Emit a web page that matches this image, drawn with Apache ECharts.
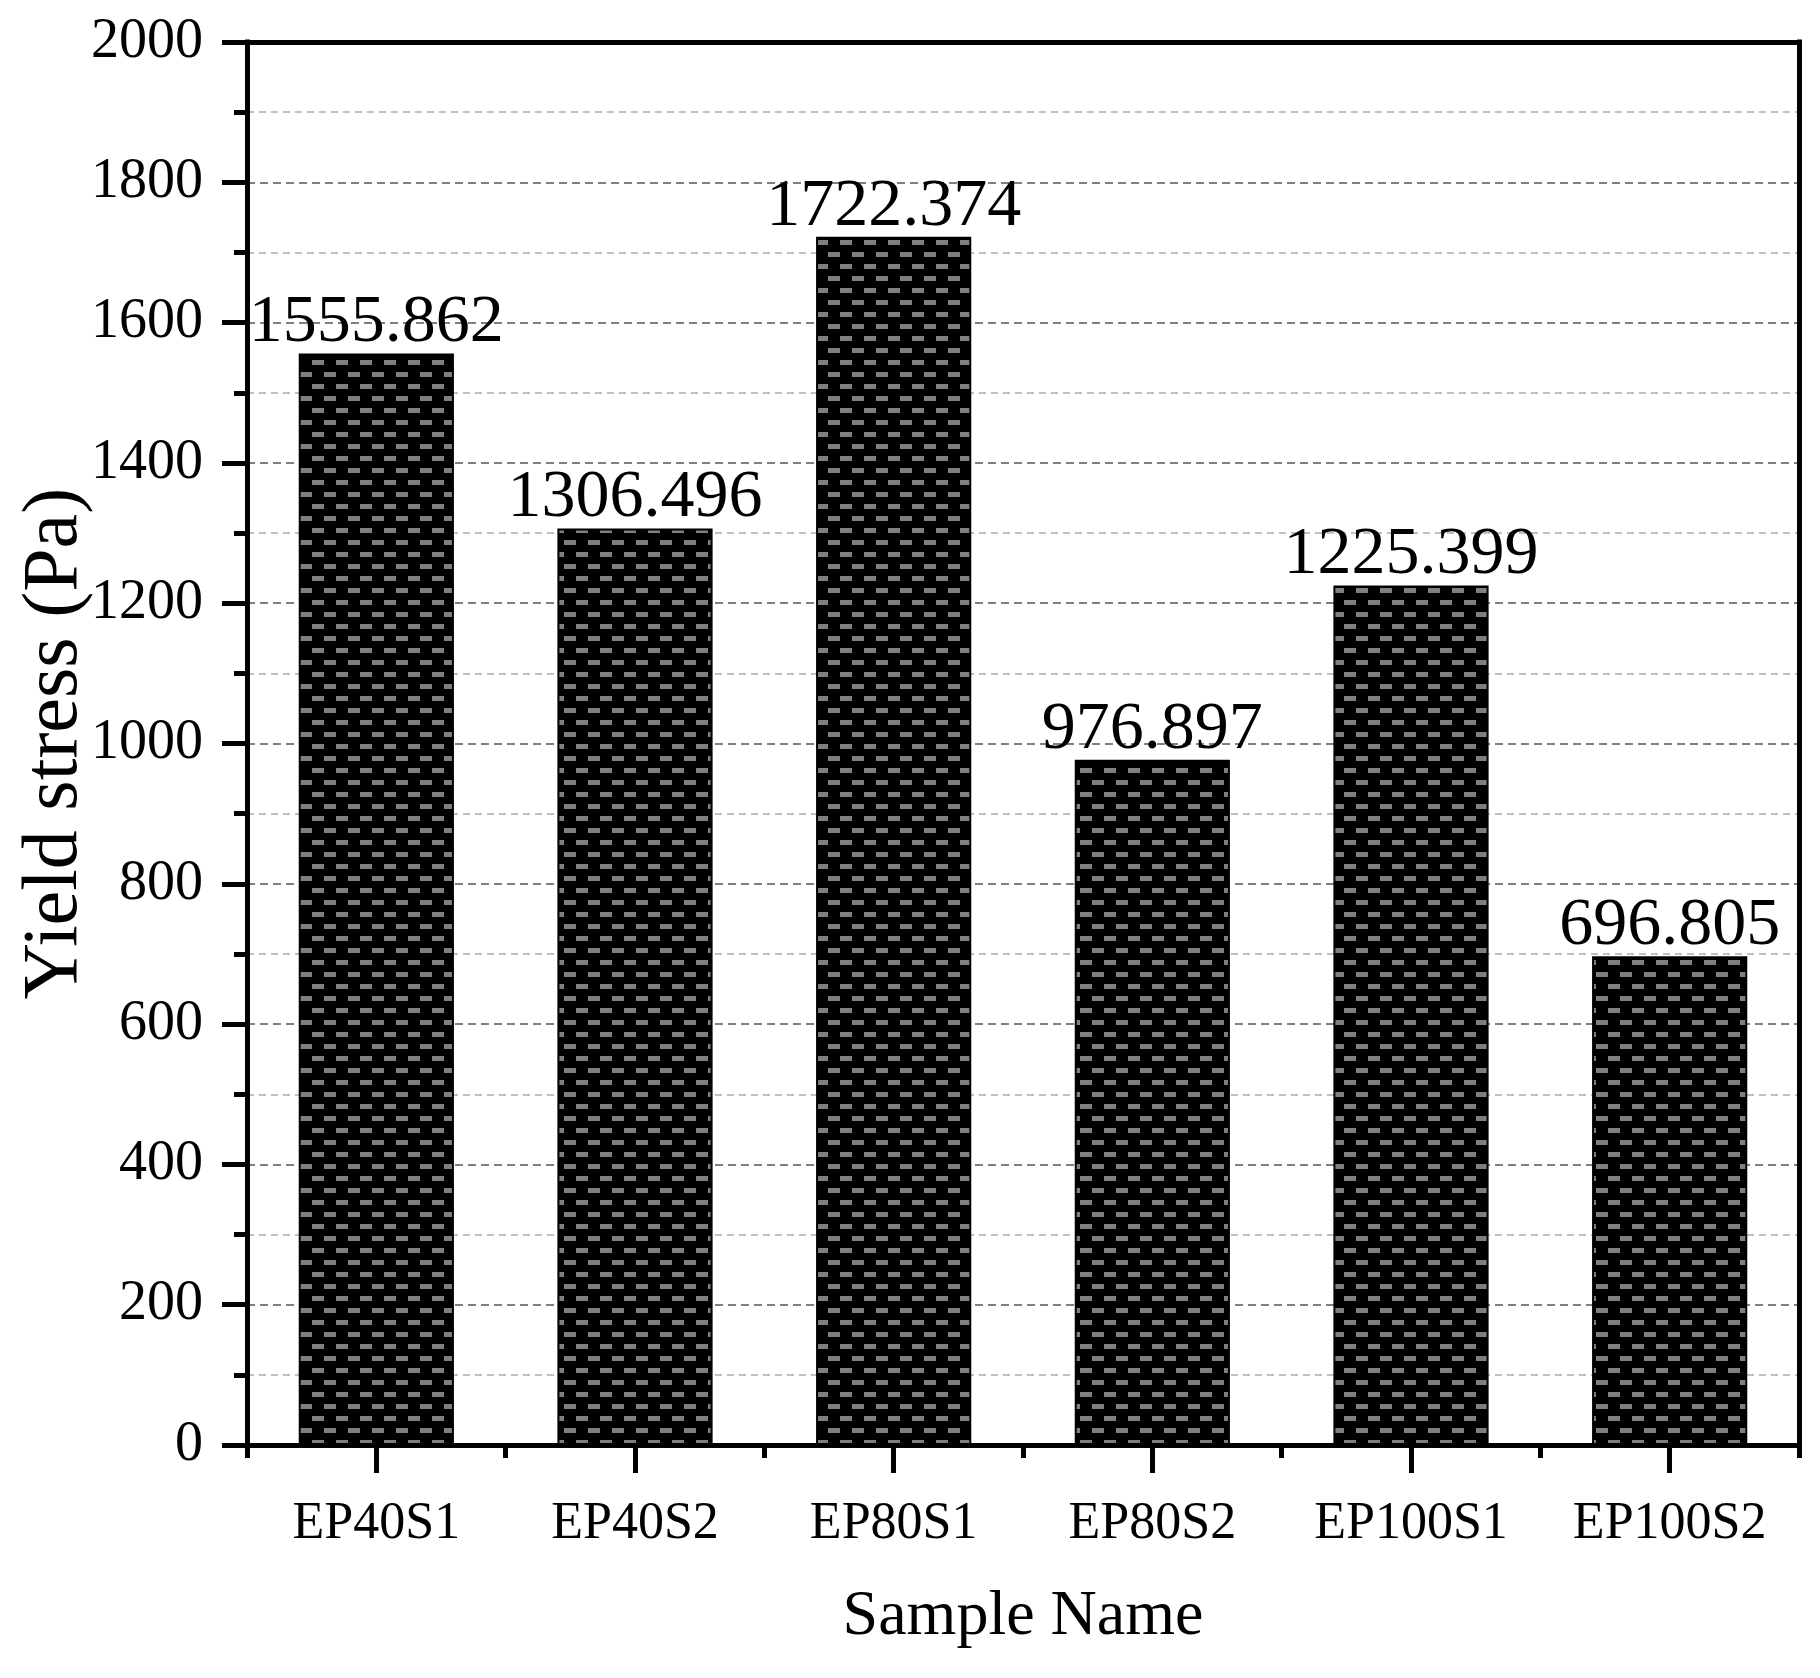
<!DOCTYPE html>
<html><head><meta charset="utf-8">
<script src="https://cdn.jsdelivr.net/npm/echarts@6/dist/echarts.min.js"></script>
<style>html,body{margin:0;padding:0;background:#fff}#c{width:1820px;height:1678px}</style>
</head><body><div id="c"></div>
<script>
const categories = ['EP40S1', 'EP40S2', 'EP80S1', 'EP80S2', 'EP100S1', 'EP100S2'];
const yieldStress = [1555.862, 1306.496, 1722.374, 976.897, 1225.399, 696.805];
const yMin = 0, yMax = 2000, yStep = 200;
const xTitle = 'Sample Name';
const yTitle = 'Yield stress (Pa)';

const FONT = 'Liberation Serif';
const pc = document.createElement('canvas');
pc.width = 24; pc.height = 24;
const g = pc.getContext('2d');
g.fillStyle = '#000'; g.fillRect(0, 0, 24, 24);
g.fillStyle = '#808080';
g.fillRect(0, 0, 12, 5);
g.fillRect(12, 12, 12, 5);

const axisLineStyle = { color: '#000', width: 5, cap: 'square' };
const chart = echarts.init(document.getElementById('c'), null, { renderer: 'canvas' });
chart.setOption({
  backgroundColor: '#fff',
  animation: false,
  grid: { left: 247, right: 21, top: 42, bottom: 233, containLabel: false, outerBoundsMode: 'none' },
  xAxis: [
    {
      type: 'category', data: categories, position: 'bottom',
      axisLine: { show: true, onZero: false, lineStyle: axisLineStyle },
      axisTick: { show: true, alignWithLabel: true, length: 28, lineStyle: { color: '#000', width: 5 } },
      axisLabel: { margin: 53, fontSize: 52, fontFamily: FONT, color: '#000' },
      splitLine: { show: false },
      name: xTitle, nameLocation: 'middle', nameGap: 140, nameMoveOverlap: false,
      nameTextStyle: { fontSize: 64, fontFamily: FONT, color: '#000' }
    },
    {
      type: 'category', data: categories, position: 'bottom',
      axisLine: { show: false },
      axisTick: { show: true, length: 13, lineStyle: { color: '#000', width: 5 } },
      axisLabel: { show: false }, splitLine: { show: false }
    },
    {
      type: 'category', data: categories, position: 'top',
      axisLine: { show: true, onZero: false, lineStyle: axisLineStyle },
      axisTick: { show: false }, axisLabel: { show: false }, splitLine: { show: false }
    }
  ],
  yAxis: [
    {
      type: 'value', min: yMin, max: yMax, interval: yStep, position: 'left',
      axisLine: { show: true, onZero: false, lineStyle: axisLineStyle },
      axisTick: { show: true, length: 25, lineStyle: { color: '#000', width: 5 } },
      minorTick: { show: true, splitNumber: 2, length: 13, lineStyle: { color: '#000', width: 5 } },
      splitLine: { show: true, lineStyle: { color: '#808080', width: 2, type: [8, 5] } },
      minorSplitLine: { show: true, lineStyle: { color: '#c0c0c0', width: 2, type: [7, 5] } },
      axisLabel: { margin: 44, fontSize: 56, fontFamily: FONT, color: '#000', formatter: v => String(v) },
      name: yTitle, nameLocation: 'middle', nameGap: 152, nameMoveOverlap: false,
      nameTextStyle: { fontSize: 78, fontFamily: FONT, color: '#000' }
    },
    {
      type: 'value', min: yMin, max: yMax, interval: yStep, position: 'right',
      axisLine: { show: true, onZero: false, lineStyle: axisLineStyle },
      axisTick: { show: false }, axisLabel: { show: false }, splitLine: { show: false }
    }
  ],
  series: [{
    type: 'bar', data: yieldStress, xAxisIndex: 0, yAxisIndex: 0,
    barWidth: '60%',
    itemStyle: { color: { image: pc, repeat: 'repeat' }, borderColor: '#000', borderWidth: 2 },
    label: {
      show: true, position: 'top', distance: -4,
      fontSize: 68, fontFamily: FONT, color: '#000',
      formatter: p => p.value.toFixed(3)
    }
  }]
});
</script></body></html>
